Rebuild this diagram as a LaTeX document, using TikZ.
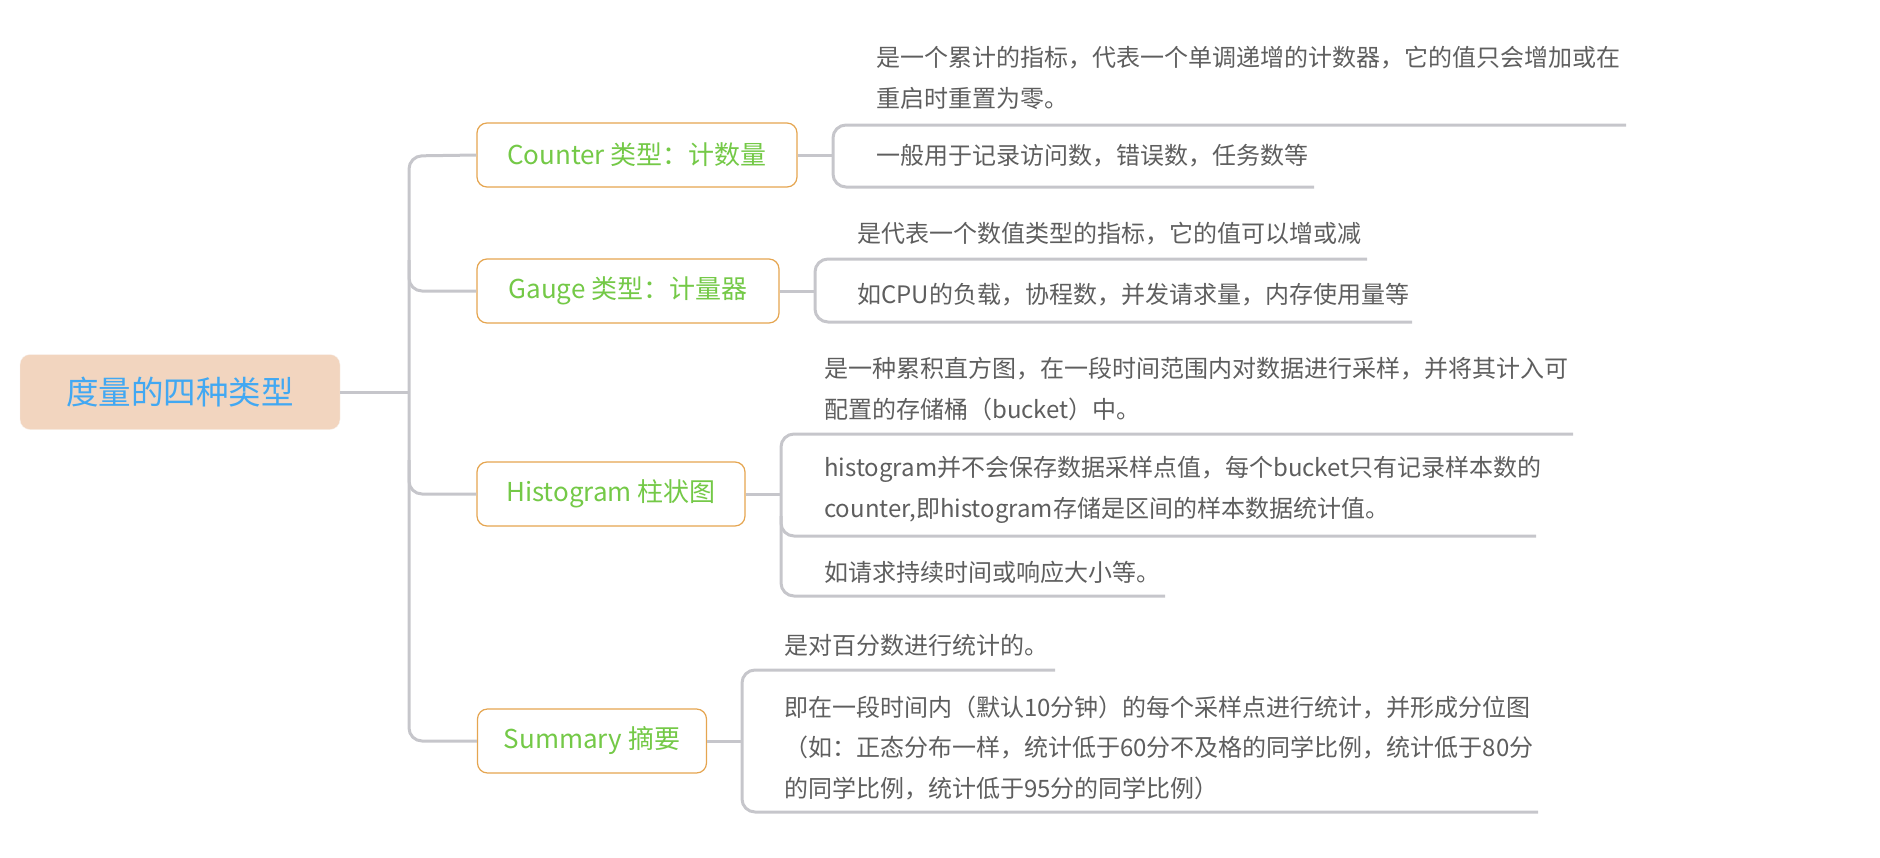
\documentclass[tikz,border=0pt]{standalone}
\usepackage{fontspec}
\setmainfont{Noto Sans CJK SC}
\begin{document}
\begin{tikzpicture}[x=1pt,y=-1pt,
  conn/.style={draw=linegray,line width=3pt,rounded corners=13pt},
  rootbox/.style={fill=rootfill,draw=rootfill!90!black!20,rounded corners=10pt,minimum width=320pt,minimum height=75pt,text=rootblue,font=\fontsize{32.5}{38}\selectfont},
  branchbox/.style={draw=branchorange,line width=1.2pt,fill=white,rounded corners=10pt,minimum height=64pt,text=branchgreen,font=\fontsize{26}{30}\selectfont,inner sep=0pt},
  leaf/.style={anchor=west,inner sep=0pt,align=left,text=leafgray,font=\fontsize{24}{40.5}\selectfont}
]
\definecolor{linegray}{HTML}{C6C6CB}
\definecolor{rootfill}{HTML}{F2D5BF}
\definecolor{rootblue}{HTML}{42A8F2}
\definecolor{branchorange}{HTML}{E5A550}
\definecolor{branchgreen}{HTML}{74C947}
\definecolor{leafgray}{HTML}{5E5E5E}
\useasboundingbox (0,0) rectangle (1880,857);

% root
\node[rootbox] (root) at (180,392) {度量的四种类型};

% branches
\node[branchbox,minimum width=320pt] (ctr) at (637,155) {Counter 类型：计数量};
\node[branchbox,minimum width=302pt] (gau) at (628,291) {Gauge 类型：计量器};
\node[branchbox,minimum width=268pt] (his) at (611,494) {Histogram 柱状图};
\node[branchbox,minimum width=229pt] (sum) at (592,741) {Summary 摘要};

% trunk
\coordinate (tk) at (409,392);
\coordinate (tktop) at (409,156);
\coordinate (tkbot) at (409,741);
\draw[conn,rounded corners=0pt] (root.east) -- (tk);
\draw[conn] (ctr.west) -- (tktop) -- (tkbot) -- (sum.west);
\draw[conn] (409,260) |- (gau.west);
\draw[conn] (409,460) |- (his.west);

% Counter leaves
\node[leaf] (c1) at (876,78) {是一个累计的指标，代表一个单调递增的计数器，它的值只会增加或在\\重启时重置为零。};
\node[leaf] (c2) at (876,156) {一般用于记录访问数，错误数，任务数等};
\coordinate (cbr) at (833,155);
\draw[conn,rounded corners=0pt] (ctr.east) -- (cbr);
\draw[conn] (1626,125) -- (833,125) -- (833,187) -- (1314,187);

% Gauge leaves
\node[leaf] (g1) at (857,234) {是代表一个数值类型的指标，它的值可以增或减};
\node[leaf] (g2) at (857,295) {如CPU的负载，协程数，并发请求量，内存使用量等};
\coordinate (gbr) at (815,291);
\draw[conn,rounded corners=0pt] (gau.east) -- (gbr);
\draw[conn] (1367,259) -- (815,259) -- (815,322) -- (1412,322);

% Histogram leaves
\node[leaf] (h1) at (824,389) {是一种累积直方图，在一段时间范围内对数据进行采样，并将其计入可\\配置的存储桶（bucket）中。};
\node[leaf] (h2) at (824,490) {histogram并不会保存数据采样点值，每个bucket只有记录样本数的\\counter,即histogram存储是区间的样本数据统计值。};
\node[leaf] (h3) at (824,572) {如请求持续时间或响应大小等。};
\coordinate (hbr) at (781,494);
\draw[conn,rounded corners=0pt] (his.east) -- (hbr);
\draw[conn] (1573,434) -- (781,434) -- (781,596) -- (1165,596);
\draw[conn] (781,516) |- (1536,536);

% Summary leaves
\node[leaf] (s1) at (784,645) {是对百分数进行统计的。};
\node[leaf] (s2) at (784,748) {即在一段时间内（默认10分钟）的每个采样点进行统计，并形成分位图\\（如：正态分布一样，统计低于60分不及格的同学比例，统计低于80分\\的同学比例，统计低于95分的同学比例）};
\coordinate (sbr) at (742,741);
\draw[conn,rounded corners=0pt] (sum.east) -- (sbr);
\draw[conn] (1055,670) -- (742,670) -- (742,812) -- (1538,812);
\end{tikzpicture}
\end{document}
